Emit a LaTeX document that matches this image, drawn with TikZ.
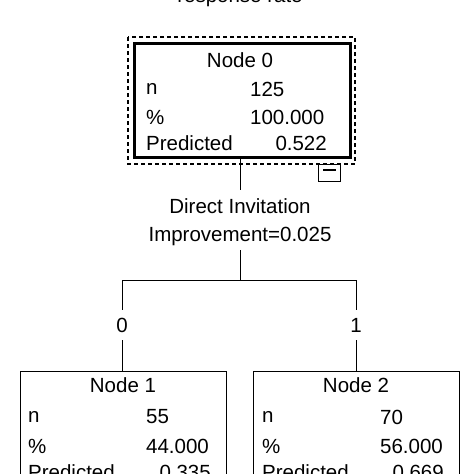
\documentclass[tikz,border=0pt]{standalone}
\usepackage{fontspec}
\setmainfont{Liberation Sans}
\begin{document}
\begin{tikzpicture}[x=1pt,y=-1pt,
  every node/.style={inner sep=0pt,font=\fontsize{20.5}{24}\selectfont},
  lab/.style={anchor=west}, val/.style={anchor=west}, rv/.style={anchor=east},
  box/.style={draw,line width=0.8pt}]
\clip (0,0) rectangle (474,474);
\useasboundingbox (0,0) rectangle (474,474);
\node (title) at (240,-2) {response rate};
% node 0
\draw[dash pattern=on 4pt off 3pt,line width=1.2pt] (128,37) rectangle (355,164);
\node[box,line width=3pt,minimum width=216pt,minimum height=114pt] (n0) at (242.5,100) {};
\node (n0t) at (240,60) {Node 0};
\node[lab] (a1) at (146,89) {n}; \node[val] (b1) at (250,89) {125};
\node[lab] (a2) at (146,117) {\%}; \node[val] (b2) at (250,117) {100.000};
\node[lab] (a3) at (146,143) {Predicted}; \node[rv] (b3) at (327,143) {0.522};
\node[box,minimum width=22pt,minimum height=17pt] (mb) at (329.5,172.5) {};
\draw[line width=1.2pt] (323,170) -- (336,170);
\node (split1) at (240,206) {Direct Invitation};
\node (split2) at (240,236) {Improvement=0.025};
\coordinate (s1) at (240,190); \coordinate (s2) at (240,250);
\draw (n0.south -| s1) -- (s1);
\coordinate (j) at (240,280);
\coordinate (l) at (122,280); \coordinate (r) at (356,280);
\draw (s2) -- (j) (l) -- (r);
\node (e0) at (122,325) {0}; \node (e1) at (356,325) {1};
% child nodes
\node[box,minimum width=206pt,minimum height=140pt,anchor=north west] (n1) at (20,371) {};
\node[box,minimum width=206pt,minimum height=140pt,anchor=north west] (n2) at (253,371) {};
\draw (l) -- (122,310) (122,340) -- (n1.north -| l);
\draw (r) -- (356,310) (356,340) -- (n2.north -| r);
\node at (123,385) {Node 1};
\node[lab] at (28,417) {n}; \node[val] at (146,417) {55};
\node[lab] at (28,446) {\%}; \node[val] at (146,446) {44.000};
\node[lab] at (28,472) {Predicted}; \node[rv] at (211,472) {0.335};
\node at (356,385) {Node 2};
\node[lab] at (262,417) {n}; \node[val] at (380,417) {70};
\node[lab] at (262,446) {\%}; \node[val] at (380,446) {56.000};
\node[lab] at (262,472) {Predicted}; \node[rv] at (444,472) {0.669};
\end{tikzpicture}
\end{document}
